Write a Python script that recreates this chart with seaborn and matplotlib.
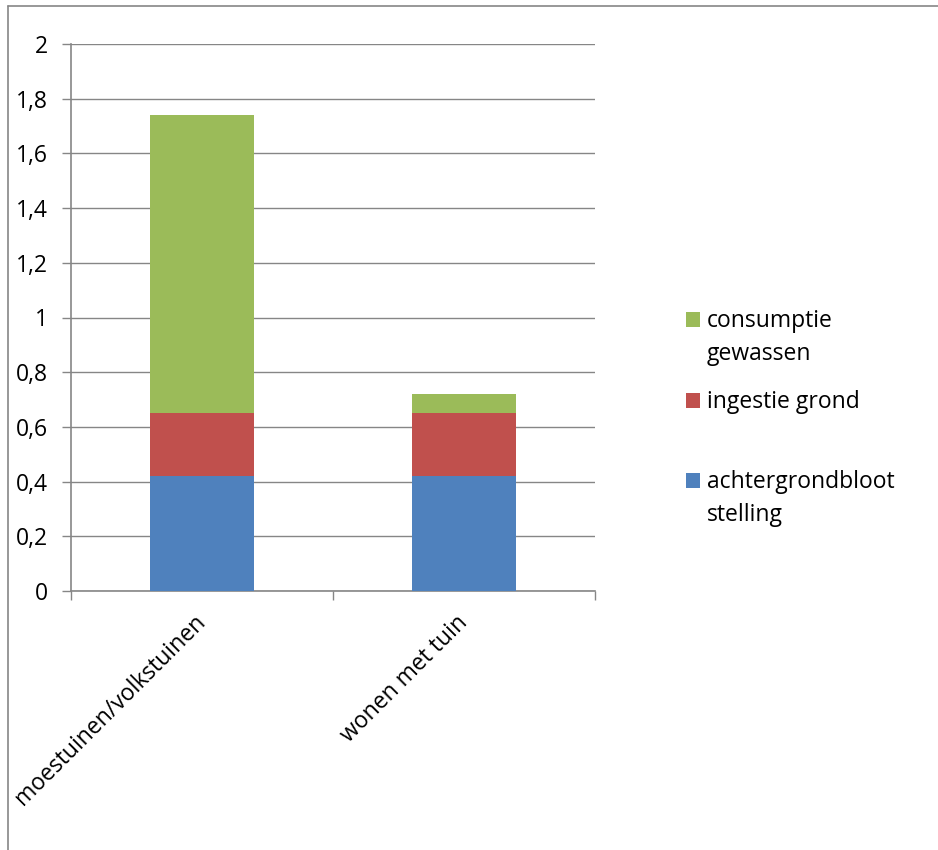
import matplotlib
matplotlib.use("Agg")
import matplotlib.pyplot as plt
from matplotlib.lines import Line2D
from matplotlib.patches import Rectangle
import numpy as np
import seaborn as sns

# Data
categories = ["moestuinen/volkstuinen", "wonen met tuin"]
series_names = [["achtergrondbloot", "stelling"], ["ingestie grond"], ["consumptie", "gewassen"]]
achtergrond = [0.42, 0.42]
ingestie = [0.23, 0.23]
consumptie = [1.09, 0.07]
series_colors = ["#4F81BD", "#C0504D", "#9BBB59"]
ytick_values = [0, 0.2, 0.4, 0.6, 0.8, 1.0, 1.2, 1.4, 1.6, 1.8, 2.0]
ytick_labels = ["0", "0,2", "0,4", "0,6", "0,8", "1", "1,2", "1,4", "1,6", "1,8", "2"]

sns.set_theme(style="white")
plt.rcParams["font.family"] = ["Open Sans", "DejaVu Sans"]

W, H = 938, 850
fig = plt.figure(figsize=(W / 100, H / 100), dpi=100)
fig.patch.set_facecolor("white")

def fx(px):
    return px / W

def fy(py):
    return 1 - py / H

ax = fig.add_axes([fx(71), fy(591), fx(595) - fx(71), fy(44) - fy(591)])

gray = "#868686"
fs = 16.5

# Stacked bars: overlay cumulative totals, tallest first
layers = np.array([achtergrond, ingestie, consumptie])
cumulative = np.cumsum(layers, axis=0)
for k in reversed(range(len(layers))):
    sns.barplot(x=categories, y=cumulative[k], order=categories, color=series_colors[k],
                saturation=1, width=0.4, linewidth=0, edgecolor="none", ax=ax, zorder=3)

ax.set_xlim(-0.5, 1.5)
ax.set_ylim(0, 2.0)
ax.set_xlabel("")
ax.set_ylabel("")

# Gridlines and axes
ax.set_yticks(ytick_values)
ax.set_yticklabels(ytick_labels, fontsize=fs, color="black")
ax.yaxis.grid(True, color=gray, linewidth=1.0)
ax.xaxis.grid(False)
ax.set_axisbelow(True)
for side in ["top", "right"]:
    ax.spines[side].set_visible(False)
for side in ["left", "bottom"]:
    ax.spines[side].set_color(gray)
    ax.spines[side].set_linewidth(1.2)
ax.tick_params(axis="y", direction="out", length=6.5, width=1.0, color=gray, pad=10, left=True)

ax.set_xticks([0, 1])
ax.set_xticks([-0.5, 0.5, 1.5], minor=True)
ax.tick_params(axis="x", which="major", length=0, pad=20)
ax.tick_params(axis="x", which="minor", direction="out", length=6.5, width=1.0, color=gray, bottom=True)
ax.set_xticklabels(categories, rotation=45, ha="right", va="center",
                   rotation_mode="anchor", fontsize=fs, color="black")

# Legend, top entry first
legend_rows = [(2, 327), (1, 408), (0, 488)]
for k, base in legend_rows:
    fig.add_artist(Rectangle((fx(686), fy(base)), fx(700) - fx(686), fy(base - 15) - fy(base),
                             transform=fig.transFigure, facecolor=series_colors[k], edgecolor="none"))
    for j, line in enumerate(series_names[k]):
        fig.text(fx(707), fy(base + 33 * j), line, fontsize=fs, ha="left", va="baseline", color="black")

# Chart frame
fig.add_artist(Line2D([fx(8), fx(8)], [0, fy(6)], transform=fig.transFigure, color=gray, linewidth=1.2))
fig.add_artist(Line2D([fx(8), 1], [fy(6), fy(6)], transform=fig.transFigure, color=gray, linewidth=1.2))

fig.savefig("out.png", dpi=100, facecolor="white")
